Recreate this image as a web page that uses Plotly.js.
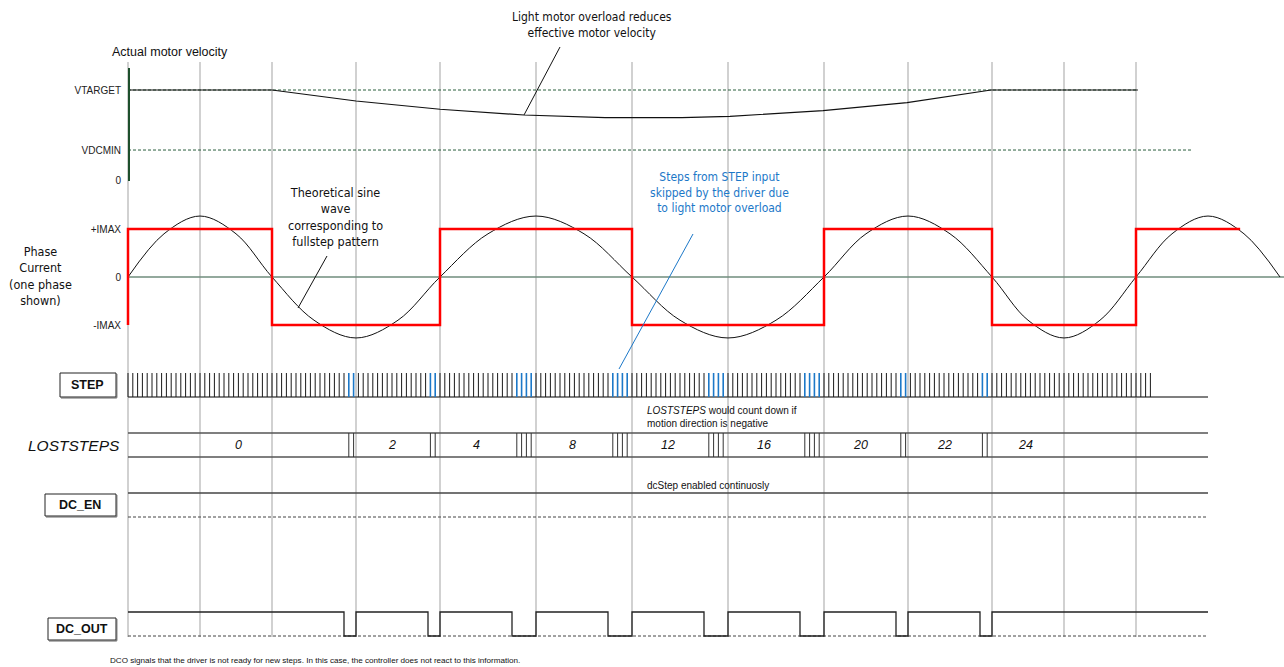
<!DOCTYPE html>
<html><head><meta charset="utf-8">
<script src="https://cdn.plot.ly/plotly-3.0.1.min.js"></script>
<style>html,body{margin:0;padding:0;background:#fff}#chart{width:1284px;height:667px}</style>
</head><body><div id="chart"></div>
<script>
// ---------------- data (time axis in STEP-pulse periods) ----------------
const gridTimes = [0, 15, 30, 47.5, 65, 85, 105, 125, 145, 162.5, 180, 195, 210];

const velocityTimes  = [0, 30, 47.5, 65, 82.5, 99.4, 115.4, 125.4, 144.8, 162.3, 179.8, 210.4];
const velocityValues = [1, 1, 0.878, 0.786, 0.722, 0.692, 0.692, 0.708, 0.77, 0.859, 1, 1];
const velocityLevelNames  = ['0', 'VDCMIN', 'VTARGET'];
const velocityLevelValues = [0, 0.333, 1];
const vtargetLineEnd = 210.4;
const vdcminLineEnd = 221.5;

// theoretical sine wave, read at zero crossings, half-way points and peaks
const sineTimes  = [0, 7.5, 15, 22.5, 30, 38.75, 47.5, 56.25, 65, 75, 85, 95, 105, 115, 125, 135, 145,
                    153.75, 162.5, 171.25, 180, 187.5, 195, 202.5, 210, 217.5, 225, 232.5, 240];
const sineValues = [0, 0.9, 1.27, 0.9, 0, -0.9, -1.27, -0.9, 0, 0.9, 1.27, 0.9, 0, -0.9, -1.27, -0.9, 0,
                    0.9, 1.27, 0.9, 0, -0.9, -1.27, -0.9, 0, 0.9, 1.27, 0.9, 0];

const phaseTimes  = [0, 0, 30, 65, 105, 145, 180, 210, 231.7];
const phaseValues = [-1, 1, -1, 1, -1, 1, -1, 1, 1];
const phaseLevelNames  = ['-IMAX', '0', '+IMAX'];
const phaseLevelValues = [-1, 0, 1];
const phaseZeroEnd = 241;

const stepTimes = [
  0,1,2,3,4,5,6,7,8,9,10,11,12,13,14,15,16,17,18,19,
  20,21,22,23,24,25,26,27,28,29,30,31,32,33,34,35,36,37,38,39,
  40,41,42,43,44,45,46,47,48,49,50,51,52,53,54,55,56,57,58,59,
  60,61,62,63,64,65,66,67,68,69,70,71,72,73,74,75,76,77,78,79,
  80,81,82,83,84,85,86,87,88,89,90,91,92,93,94,95,96,97,98,99,
  100,101,102,103,104,105,106,107,108,109,110,111,112,113,114,115,116,117,118,119,
  120,121,122,123,124,125,126,127,128,129,130,131,132,133,134,135,136,137,138,139,
  140,141,142,143,144,145,146,147,148,149,150,151,152,153,154,155,156,157,158,159,
  160,161,162,163,164,165,166,167,168,169,170,171,172,173,174,175,176,177,178,179,
  180,181,182,183,184,185,186,187,188,189,190,191,192,193,194,195,196,197,198,199,
  200,201,202,203,204,205,206,207,208,209,210,211,212,213
];
const skippedSteps = [46,47, 63,64, 81,82,83,84, 101,102,103,104, 121,122,123,124,
                      141,142,143,144, 161,162, 178,179];
const lostStepsLabels = ['0', '2', '4', '8', '12', '16', '20', '22', '24'];
const signalEnd = 225;

const dcOutLowStart = [45, 62.5, 80, 100, 120, 140, 160, 177.5];
const dcOutLowEnd   = [47.5, 65, 85, 105, 125, 145, 162.5, 180];

// ---------------- layout helpers ----------------
const W = 1284, H = 667;
const X0PX = 128, PXPERT = 4.8;
const px = x => x / W;
const py = y => 1 - y / H;
const dom = (top, bot) => [py(bot), py(top)];

const COND = '"DejaVu Sans Condensed", "DejaVu Sans", sans-serif';
const ARIAL = '"Liberation Sans", Arial, sans-serif';
const BLUE = '#1c78c8';
const GREEN = '#2a5e3c';

const traces = [];
// velocity
traces.push({x: [0, vtargetLineEnd], y: [1, 1], yaxis: 'y', mode: 'lines',
  line: {color: GREEN, width: 1, dash: '3px,2px'}});
traces.push({x: [0, vdcminLineEnd], y: [velocityLevelValues[1], velocityLevelValues[1]], yaxis: 'y', mode: 'lines',
  line: {color: GREEN, width: 1, dash: '3px,2px'}});
traces.push({x: velocityTimes, y: velocityValues, yaxis: 'y', mode: 'lines',
  line: {color: '#111', width: 1.2}});

// phase current
traces.push({x: [0, phaseZeroEnd], y: [0, 0], yaxis: 'y2', mode: 'lines',
  line: {color: '#6f8c7c', width: 1.3}});
traces.push({x: sineTimes, y: sineValues, yaxis: 'y2', mode: 'lines',
  line: {color: '#111', width: 1, shape: 'spline', smoothing: 1}});
traces.push({x: phaseTimes, y: phaseValues, yaxis: 'y2', mode: 'lines',
  line: {color: '#ff0000', width: 2.5, shape: 'hv'}});

// STEP
const skippedSet = new Set(skippedSteps);
const blackX = [], blackY = [], blueX = [], blueY = [];
stepTimes.forEach(t => {
  if (skippedSet.has(t)) { blueX.push(t, t, null); blueY.push(0, 1, null); }
  else { blackX.push(t, t, null); blackY.push(0, 1, null); }
});
traces.push({x: [0, signalEnd], y: [0, 0], yaxis: 'y3', mode: 'lines', line: {color: '#555', width: 1.5}});
traces.push({x: blackX, y: blackY, yaxis: 'y3', mode: 'lines', line: {color: '#1a1a1a', width: 1}});
traces.push({x: blueX, y: blueY, yaxis: 'y3', mode: 'lines', line: {color: BLUE, width: 1.6}});

// LOSTSTEPS bus
const busX = [], busY = [];
skippedSteps.forEach(t => { busX.push(t, t, null); busY.push(0, 1, null); });
traces.push({x: [0, signalEnd, null, 0, signalEnd], y: [1, 1, null, 0, 0], yaxis: 'y4', mode: 'lines',
  line: {color: '#555', width: 1.5}});
traces.push({x: busX, y: busY, yaxis: 'y4', mode: 'lines', line: {color: '#333', width: 1}});

const groups = [];
skippedSteps.forEach(t => {
  const g = groups[groups.length - 1];
  if (g && t - g[1] === 1) g[1] = t; else groups.push([t, t]);
});
const labelPos = [];
let prevEnd = 0;
groups.forEach(g => { labelPos.push((prevEnd + g[0]) / 2); prevEnd = g[1]; });
const lastLen = groups[groups.length - 1][0] - groups[groups.length - 2][1];
labelPos.push(prevEnd + lastLen / 2);

// DC_EN
traces.push({x: [0, signalEnd], y: [1, 1], yaxis: 'y5', mode: 'lines', line: {color: '#444', width: 1.3}});
traces.push({x: [0, signalEnd], y: [0, 0], yaxis: 'y5', mode: 'lines', line: {color: '#444', width: 1, dash: '3px,2px'}});

// DC_OUT
const dcoX = [0], dcoY = [1];
dcOutLowStart.forEach((s, i) => { dcoX.push(s, dcOutLowEnd[i]); dcoY.push(0, 1); });
dcoX.push(signalEnd); dcoY.push(1);
traces.push({x: [0, signalEnd], y: [0, 0], yaxis: 'y6', mode: 'lines', line: {color: '#444', width: 1, dash: '3px,2px'}});
traces.push({x: dcoX, y: dcoY, yaxis: 'y6', mode: 'lines', line: {color: '#222', width: 1.3, shape: 'hv'}});

traces.forEach(t => { t.xaxis = 'x'; t.hoverinfo = 'skip'; t.showlegend = false; });

// ---------------- axes ----------------
const xr = [-X0PX / PXPERT, (W - X0PX) / PXPERT];
const axPos = X0PX / W;
const hidden = (d, r) => ({domain: d, range: r, anchor: 'free', position: axPos, visible: false, fixedrange: true});
const tickfont = {family: ARIAL, size: 10, color: '#222'};

const layout = {
  width: W, height: H,
  margin: {l: 0, r: 0, t: 0, b: 0},
  paper_bgcolor: '#ffffff', plot_bgcolor: 'rgba(0,0,0,0)',
  showlegend: false,
  xaxis: {range: xr, visible: false, fixedrange: true, anchor: 'y6'},
  yaxis: {domain: dom(68, 181), range: [-1 / 90, 112 / 90], anchor: 'free', position: axPos,
    showline: true, linecolor: '#1d4f2c', linewidth: 1.6, showgrid: false, zeroline: false,
    tickmode: 'array', tickvals: velocityLevelValues, ticktext: velocityLevelNames,
    ticks: 'outside', ticklen: 5, tickcolor: 'rgba(0,0,0,0)', tickfont: tickfont, fixedrange: true},
  yaxis2: {domain: dom(200, 360), range: [(277 - 360) / 48, (277 - 200) / 48], anchor: 'free', position: axPos,
    showline: false, showgrid: false, zeroline: false,
    tickmode: 'array', tickvals: phaseLevelValues, ticktext: phaseLevelNames,
    ticks: 'outside', ticklen: 5, tickcolor: 'rgba(0,0,0,0)', tickfont: tickfont, fixedrange: true},
  yaxis3: hidden(dom(370, 400), [-0.125, 1.125]),
  yaxis4: hidden(dom(430, 460), [-0.125, 1.125]),
  yaxis5: hidden(dom(490, 520), [-0.125, 1.125]),
  yaxis6: hidden(dom(609, 639), [-0.125, 1.125]),
  shapes: [], annotations: []
};

gridTimes.forEach(t => layout.shapes.push({type: 'line', xref: 'x', yref: 'paper', layer: 'below',
  x0: t, x1: t, y0: py(637), y1: py(62), line: {color: '#a3a3a3', width: 1}}));

const pline = (x0, y0, x1, y1, color, width) => layout.shapes.push({type: 'line', xref: 'paper', yref: 'paper',
  x0: px(x0), y0: py(y0), x1: px(x1), y1: py(y1), line: {color: color, width: width}});
pline(524, 115, 560, 47, '#111', 1);
pline(327, 256, 298, 308, '#111', 1);
pline(693, 234, 619, 369, BLUE, 1);

const box = (x0, y0, x1, y1) => {
  layout.shapes.push({type: 'rect', xref: 'paper', yref: 'paper', x0: px(x0), y0: py(y1), x1: px(x1), y1: py(y0),
    line: {color: '#222', width: 1}, fillcolor: '#ffffff'});
  pline(x0 + 1, y1 + 0.8, x1 + 0.8, y1 + 0.8, '#666', 1.2);
  pline(x1 + 0.8, y0 + 1, x1 + 0.8, y1 + 0.8, '#666', 1.2);
};
box(60, 373, 116, 397);
box(45, 494, 116, 516);
box(48, 618, 116, 640);

const ann = (text, x, y, font, xanchor, align) => layout.annotations.push({text: text, xref: 'paper', yref: 'paper',
  x: px(x), y: py(y), xanchor: xanchor || 'center', yanchor: 'middle', align: align || 'center',
  showarrow: false, font: font});
ann('Actual motor velocity', 110, 52, {family: ARIAL, size: 12.5, color: '#111'}, 'left');
ann('Light motor overload reduces<br>effective motor velocity', 592, 25, {family: COND, size: 12, color: '#111'});
ann('Theoretical sine<br>wave<br>corresponding to<br>fullstep pattern', 336, 216.5, {family: COND, size: 12.5, color: '#111'});
ann('Phase<br>Current<br>(one phase<br>shown)', 40, 275.5, {family: COND, size: 12.5, color: '#111'});
ann('Steps from STEP input<br>skipped by the driver due<br>to light motor overload', 720, 193, {family: COND, size: 12, color: BLUE});
ann('<b>STEP</b>', 88, 385, {family: ARIAL, size: 12.5, color: '#111'});
ann('<i>LOSTSTEPS</i>', 122, 445, {family: ARIAL, size: 15.5, color: '#111'}, 'right');
ann('<i>LOSTSTEPS</i> would count down if<br>motion direction is negative', 645, 416.5, {family: ARIAL, size: 10, color: '#111'}, 'left', 'left');
ann('dcStep enabled continuosly', 645, 485, {family: ARIAL, size: 10, color: '#111'}, 'left');
ann('<b>DC_EN</b>', 80.5, 505, {family: ARIAL, size: 12.5, color: '#111'});
ann('<b>DC_OUT</b>', 82, 629, {family: ARIAL, size: 12.5, color: '#111'});
ann('DCO signals that the driver is not ready for new steps. In this case, the controller does not react to this information.',
  108, 660, {family: ARIAL, size: 8.1, color: '#111'}, 'left');

lostStepsLabels.forEach((lab, i) => layout.annotations.push({text: '<i>' + lab + '</i>', xref: 'x', yref: 'y4',
  x: labelPos[i], y: 0.5, showarrow: false, xanchor: 'center', yanchor: 'middle',
  font: {family: ARIAL, size: 12.5, color: '#111'}}));

Plotly.newPlot('chart', traces, layout, {staticPlot: true, displayModeBar: false});
</script>
</body></html>
